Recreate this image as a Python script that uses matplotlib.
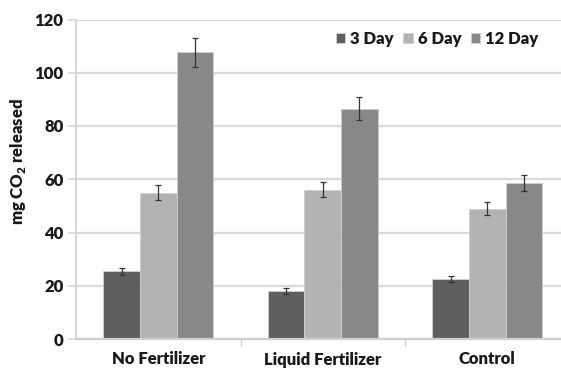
import matplotlib
matplotlib.use("Agg")
import matplotlib.pyplot as plt
import numpy as np

plt.rcParams['font.family'] = ['Lato', 'DejaVu Sans']
plt.rcParams['mathtext.fontset'] = 'custom'
plt.rcParams['mathtext.rm'] = 'Lato'
plt.rcParams['mathtext.bf'] = 'Lato:heavy'

categories = ["No Fertilizer", "Liquid Fertilizer", "Control"]
series = ["3 Day", "6 Day", "12 Day"]
day3 = [25.4, 18.1, 22.5]
day6 = [54.9, 56.0, 48.9]
day12 = [107.7, 86.5, 58.5]
err3 = [1.4, 1.1, 1.2]
err6 = [2.8, 2.8, 2.5]
err12 = [5.4, 4.3, 3.0]
colors = ["#5f5f5f", "#b3b3b3", "#888888"]

TXT = "#1a1a1a"
FS = 12
WEIGHT = "heavy"

fig = plt.figure(figsize=(5.61, 3.68), dpi=100)
W, H = 561, 368
left, right, top, bottom = 76, 569.5, 19.5, 339
ax = fig.add_axes([left / W, 1 - bottom / H, (right - left) / W, (bottom - top) / H])

x = np.arange(len(categories))
bw = 0.222
values = [day3, day6, day12]
errors = [err3, err6, err12]
for i, (vals, errs, c, name) in enumerate(zip(values, errors, colors, series)):
    ax.bar(x + (i - 1) * bw, vals, width=bw, color=c, edgecolor="#d0d0d0",
           linewidth=0.6, label=name, zorder=2)
    ax.errorbar(x + (i - 1) * bw, vals, yerr=errs, fmt="none", ecolor="#333333",
                elinewidth=0.9, capsize=2.5, capthick=0.9, zorder=3)

ax.set_xlim(-0.5, 2.5)
ax.set_ylim(0, 120)
ax.set_yticks(np.arange(0, 121, 20))
ax.yaxis.grid(True, color="#d9d9d9", linewidth=1.6, zorder=0)
ax.set_axisbelow(True)
for s in ["top", "right"]:
    ax.spines[s].set_visible(False)
ax.spines["left"].set_color("#d0d0d0")
ax.spines["bottom"].set_color("#d0d0d0")
ax.spines["left"].set_linewidth(1.2)
ax.spines["bottom"].set_linewidth(1.6)

ax.tick_params(axis="y", length=6, width=1.2, color="#d9d9d9", pad=3,
               labelsize=FS, labelcolor=TXT)
ax.set_yticklabels([str(v) for v in range(0, 121, 20)], fontweight=WEIGHT)

ax.set_xticks([0.5, 1.5], minor=True)
ax.set_xticks(x)
ax.set_xticklabels(categories, fontweight=WEIGHT, fontsize=FS, color=TXT)
ax.tick_params(axis="x", which="major", length=0, pad=9)
ax.tick_params(axis="x", which="minor", length=5, width=1, color="#d0d0d0")

ax.set_ylabel("mg CO$_\\mathbf{2}$ released", fontweight=WEIGHT, fontsize=FS,
              color=TXT)
ax.yaxis.set_label_coords((28 - left) / (right - left), (bottom - 162) / (bottom - top))

leg = ax.legend(loc="center left",
                bbox_to_anchor=((329 - left) / (right - left), (bottom - 39) / (bottom - top)),
                ncol=3, frameon=False, handlelength=0.55, handleheight=0.55,
                handletextpad=0.3, columnspacing=0.6, borderaxespad=0,
                prop={"weight": WEIGHT, "size": FS})
for t in leg.get_texts():
    t.set_color(TXT)

fig.savefig("out.png", dpi=100)
